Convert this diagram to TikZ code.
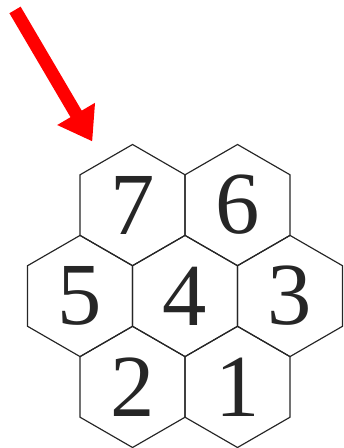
\documentclass[tikz,border=0pt]{standalone}
\usepackage{fontspec}
\setmainfont{Liberation Serif}
\usetikzlibrary{arrows.meta}
\definecolor{hexgray}{HTML}{262626}
\tikzset{
	hexline/.style={draw=hexgray,line width=0.55pt,line join=miter},
	hexnum/.style={inner sep=0pt,text=hexgray,font=\fontsize{41.6}{46}\selectfont},
	pointer/.style={draw=red,line width=6.1pt,-{Triangle[length=15pt,width=19.5pt]}}
}
\begin{document}
\begin{tikzpicture}
	\useasboundingbox (-3.053,-2.508) rectangle (2.607,4.884);
	\foreach \n/\x/\y in {7/-0.866/1.5,6/0.866/1.5,5/-1.732/0,4/0/0,3/1.732/0,2/-0.866/-1.5,1/0.866/-1.5} {
		\draw[hexline] (\x,\y) +(30:1) -- +(90:1) -- +(150:1) -- +(210:1) -- +(270:1) -- +(330:1) -- cycle;
		\node[hexnum] (h\n) at (\x,\y) {\n};
	}
	\coordinate (tail) at (-2.805,4.72);
	\coordinate (tip) at (-1.53,2.55);
	\draw[pointer] (tail) -- (tip);
\end{tikzpicture}
\end{document}
